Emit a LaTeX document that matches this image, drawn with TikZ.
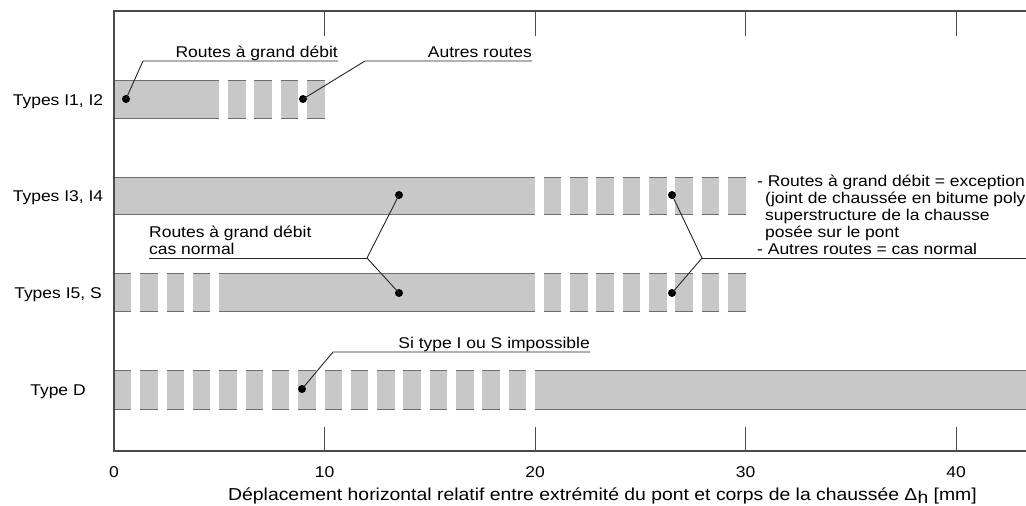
\documentclass[tikz,border=0pt]{standalone}
\usepackage{fontspec}
\setmainfont[FakeStretch=1.12]{Liberation Sans}
\definecolor{barfill}{HTML}{C8C8C8}
\definecolor{baredge}{HTML}{6E6E6E}
\definecolor{framecol}{HTML}{4A4A4A}
\definecolor{leadcol}{HTML}{252525}
\newcommand\mmx[1]{114+21.05*(#1)}
\newcommand\barseg[4]{%
  \fill[barfill] ({\mmx{#1}},#3) rectangle ({\mmx{#2}},#4);
  \draw[baredge,line width=1pt] ({\mmx{#1}},#3) -- ({\mmx{#2}},#3) ({\mmx{#1}},#4) -- ({\mmx{#2}},#4);}
\tikzset{
  lab/.style={inner sep=0pt,font=\fontsize{15.6}{17}\selectfont},
  ttl/.style={inner sep=0pt,font=\fontsize{17.3}{19}\selectfont},
  dot/.style={circle,fill=black,inner sep=0pt,minimum size=8pt},
  lead/.style={draw=leadcol,line width=0.9pt},
  framel/.style={draw=framecol,line width=1.6pt},
  tickl/.style={draw=framecol,line width=1pt}
}
\begin{document}
\begin{tikzpicture}[x=1pt,y=-1pt]
\useasboundingbox (0,0) rectangle (1026,506);
\clip (0,0) rectangle (1026,506);
% bars
\barseg{0}{5}{80}{118}
\foreach \k in {0,...,3}{\barseg{5+1.25*\k+0.42}{5+1.25*\k+1.25}{80}{118}}
\barseg{0}{20}{177}{214}
\foreach \k in {0,...,7}{\barseg{20+1.25*\k+0.42}{20+1.25*\k+1.25}{177}{214}}
\foreach \k in {0,...,3}{\barseg{1.25*\k}{1.25*\k+0.83}{273}{311}}
\barseg{5}{20}{273}{311}
\foreach \k in {0,...,7}{\barseg{20+1.25*\k+0.42}{20+1.25*\k+1.25}{273}{311}}
\foreach \k in {0,...,15}{\barseg{1.25*\k}{1.25*\k+0.83}{370}{409}}
\barseg{20}{44}{370}{409}
% frame
\draw[framel] (1030,11) -- (114,11) -- (114,451) -- (1030,451);
\foreach \t in {10,20,30,40}{
  \draw[tickl] ({\mmx{\t}},11) -- ({\mmx{\t}},36);
  \draw[tickl] ({\mmx{\t}},427) -- ({\mmx{\t}},451);
}
% row labels
\node[lab,anchor=base] (t12) at (58,105) {Types I1, I2};
\node[lab,anchor=base] (t34) at (58,201.5) {Types I3, I4};
\node[lab,anchor=base] (t5s) at (58,298) {Types I5, S};
\node[lab,anchor=base] (td) at (58,395.5) {Type D};
% axis numbers
\node[lab,anchor=base] (n0) at ({\mmx{0}},477) {0};
\node[lab,anchor=base] (n10) at ({\mmx{10}},477) {10};
\node[lab,anchor=base] (n20) at ({\mmx{20}},477) {20};
\node[lab,anchor=base] (n30) at ({\mmx{30}},477) {30};
\node[lab,anchor=base] (n40) at ({\mmx{40}},477) {40};
\node[ttl,anchor=base west] (axt) at (228,500) {Déplacement horizontal relatif entre extrémité du pont et corps de la chaussée Δ\raisebox{-3.5pt}{h} [mm]};
% dots
\node[dot] (d1) at (126,99) {};
\node[dot] (d2) at (303,99) {};
\node[dot] (d3) at (399,195) {};
\node[dot] (d4) at (399,293) {};
\node[dot] (d5) at (672,195) {};
\node[dot] (d6) at (672,293) {};
\node[dot] (d7) at (302,389) {};
% leader coordinates
\coordinate (b1) at (143,61);
\coordinate (e1) at (338,61);
\coordinate (b2) at (365,61);
\coordinate (e2) at (532,61);
\coordinate (j1) at (367,258);
\coordinate (e3) at (149,258);
\coordinate (j2) at (702,258);
\coordinate (e4) at (1030,258);
\coordinate (b7) at (333,352);
\coordinate (e7) at (590,352);
\draw[lead] (d1.center) -- (b1) -- (e1);
\draw[lead] (d2.center) -- (b2) -- (e2);
\draw[lead] (d3.center) -- (j1) -- (d4.center);
\draw[lead] (j1) -- (e3);
\draw[lead] (d5.center) -- (j2) -- (d6.center);
\draw[lead] (j2) -- (e4);
\draw[lead] (d7.center) -- (b7) -- (e7);
% texts
\node[lab,anchor=base east] (l1) at (338,57) {Routes à grand débit};
\node[lab,anchor=base east] (l2) at (532,57) {Autres routes};
\node[lab,anchor=base west] (l3a) at (149,237) {Routes à grand débit};
\node[lab,anchor=base west] (l3b) at (149,254) {cas normal};
\node[lab,anchor=base east] (l7) at (590,348) {Si type I ou S impossible};
\node[lab,anchor=base west] (r1) at (757,186) {- Routes à grand débit = exception};
\node[lab,anchor=base west] (r2) at (765,203) {(joint de chaussée en bitume poly};
\node[lab,anchor=base west] (r3) at (765,220) {superstructure de la chausse};
\node[lab,anchor=base west] (r4) at (765,237) {posée sur le pont};
\node[lab,anchor=base west] (r5) at (757,254) {- Autres routes = cas normal};
\end{tikzpicture}
\end{document}
